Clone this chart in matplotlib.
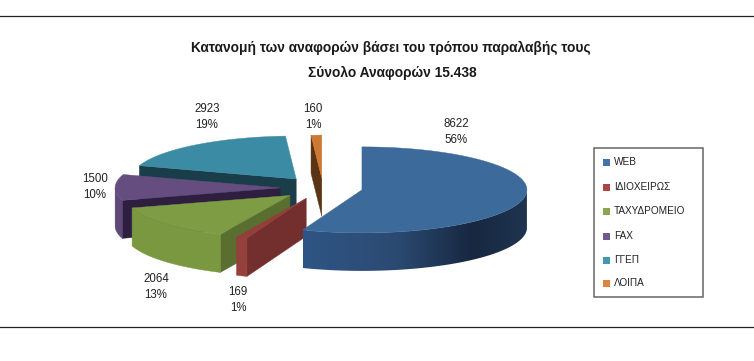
import numpy as np
import matplotlib
matplotlib.use('Agg')
import matplotlib.pyplot as plt
from matplotlib.patches import Polygon, Rectangle
from matplotlib.colors import LinearSegmentedColormap

title1 = 'Κατανομή των αναφορών βάσει του τρόπου παραλαβής τους'
title2 = 'Σύνολο Αναφορών 15.438'
categories = ['WEB', 'ΙΔΙΟΧΕΙΡΩΣ', 'ΤΑΧΥΔΡΟΜΕΙΟ', 'FAX', 'ΓΓΕΠ', 'ΛΟΙΠΑ']
values = [8622, 169, 2064, 1500, 2923, 160]

# colours of the slices
top_cols = ['#3c6a9a', '#943e3b', '#7d9c44', '#664d80', '#3a8ba3', '#cc7a33']
wall_cols = ['#1a2d47', '#732f2e', '#5a6e30', '#2e1f40', '#1a3d4a', '#5a3414']
arc_cols = ['#2f5584', '#94403c', '#7a9840', '#5f4878', '#35809a', '#b06a2c']
legend_cols = ['#4573a7', '#aa4643', '#89a54e', '#71588f', '#4198af', '#db843d']

# pie geometry, in pixels
cx, cy = 323, 188
rx, ry = 165, 43
depth = 38
explode = [0.24, 0.26, 0.265, 0.26, 0.265, 0.23]
draw_order = [4, 5, 3, 2, 1, 0]

label_pos = [(456, 132), (238, 300), (156, 287), (95, 187), (207, 117), (313, 117)]
legend_y = [162, 187, 211, 236, 260, 283]

plt.rcParams['font.family'] = ['Liberation Sans', 'DejaVu Sans']

fig = plt.figure(figsize=(7.54, 3.61), dpi=100)
ax = fig.add_axes([0, 0, 1, 1])
ax.set_xlim(0, 754)
ax.set_ylim(361, 0)
ax.axis('off')

# front of the big slice gets darker towards the right
blue_front = LinearSegmentedColormap.from_list(
    'blue_front', [(0, '#2f5584'), (0.42, '#2b4a72'), (0.75, '#172840'), (1, '#1f3450')])

total = sum(values)
angles = np.cumsum([0] + values) / total * 360

for i in draw_order:
    a, b = angles[i], angles[i + 1]
    mid = np.radians((a + b) / 2)
    ox = cx + explode[i] * rx * np.sin(mid)
    oy = cy - explode[i] * ry * np.cos(mid)
    th = np.radians(np.linspace(a, b, 200))
    xs = ox + rx * np.sin(th)
    ys = oy - ry * np.cos(th)

    # cut walls, only when they face the viewer
    if np.sin(np.radians(a)) < -0.001:
        ax.add_patch(Polygon([(ox, oy), (xs[0], ys[0]), (xs[0], ys[0] + depth), (ox, oy + depth)],
                             fc=wall_cols[i], ec=wall_cols[i], lw=0.3, zorder=2))
    if np.sin(np.radians(b)) > 0.001:
        ax.add_patch(Polygon([(ox, oy), (xs[-1], ys[-1]), (xs[-1], ys[-1] + depth), (ox, oy + depth)],
                             fc=wall_cols[i], ec=wall_cols[i], lw=0.3, zorder=2))

    # outer wall, front half of the ellipse
    front = np.cos(th) <= 0
    if front.any():
        fx, fy = xs[front], ys[front]
        pts = list(zip(fx, fy)) + list(zip(fx[::-1], fy[::-1] + depth))
        if i == 0:
            wall = Polygon(pts, fc='none', ec='none', zorder=2)
            ax.add_patch(wall)
            im = ax.imshow(np.linspace(0, 1, 256).reshape(1, -1), cmap=blue_front, aspect='auto',
                           extent=(fx.min(), fx.max(), fy.max() + depth, fy.min()), zorder=2)
            im.set_clip_path(wall)
        else:
            ax.add_patch(Polygon(pts, fc=arc_cols[i], ec=arc_cols[i], lw=0.3, zorder=2))

    # top
    ax.add_patch(Polygon(list(zip(xs, ys)) + [(ox, oy)], fc=top_cols[i], ec=top_cols[i], lw=0.3, zorder=2))

ax.set_xlim(0, 754)
ax.set_ylim(361, 0)

# labels
for i in range(len(values)):
    pct = round(values[i] / total * 100)
    ax.text(label_pos[i][0], label_pos[i][1], f'{values[i]}\n{pct}%', ha='center', va='center',
            fontsize=8.3, color='#222222', linespacing=1.4, zorder=5)

# legend
ax.add_patch(Rectangle((594, 148), 109, 149, fc='white', ec='#666666', lw=1.1, zorder=3))
for i in range(len(categories)):
    ax.add_patch(Rectangle((603, legend_y[i] - 3.5), 7, 7, fc=legend_cols[i], ec='none', zorder=4))
    ax.text(614, legend_y[i], categories[i], ha='left', va='center', fontsize=7.2, color='#222222', zorder=5)

# titles and rules
ax.text(391, 48, title1, ha='center', va='center', fontsize=9.95, fontweight='bold', color='#1a1a1a')
ax.text(392, 73, title2, ha='center', va='center', fontsize=9.95, fontweight='bold', color='#1a1a1a')
ax.plot([0, 754], [16, 16], color='#222222', lw=0.9)
ax.plot([0, 754], [327, 327], color='#222222', lw=0.9)

fig.savefig('out.png', dpi=100)
